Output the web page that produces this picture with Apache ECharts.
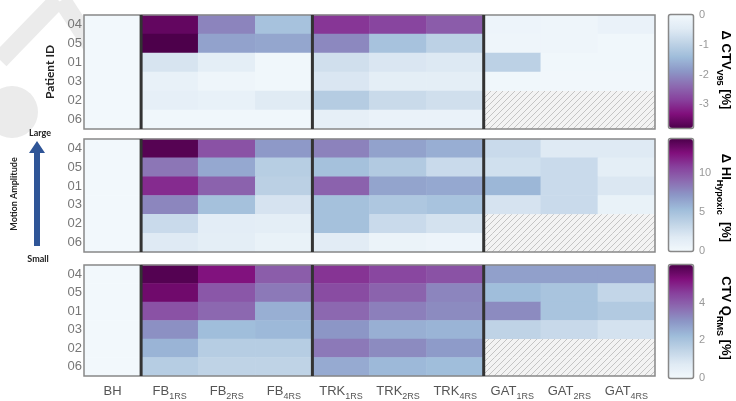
<!DOCTYPE html>
<html>
<head>
<meta charset="utf-8">
<script src="https://cdn.jsdelivr.net/npm/echarts@6/dist/echarts.min.js"></script>
<style>
  html, body { margin: 0; padding: 0; background: #fff; }
  #main { width: 736px; height: 401px; }
</style>
</head>
<body>
<div id="main"></div>
<script>
// 列（方案）和行（患者）
var cols = ['BH', 'FB_1RS', 'FB_2RS', 'FB_4RS', 'TRK_1RS', 'TRK_2RS', 'TRK_4RS', 'GAT_1RS', 'GAT_2RS', 'GAT_4RS'];
var patients = ['04', '05', '01', '03', '02', '06'];

// ΔCTV_V95 [%]，null = 无数据（斜线）
var ctvV95 = [
  [0, -3.6, -2.1, -1.3, -2.95, -2.8, -2.55, -0.12, -0.1, -0.2],
  [0, -3.8, -1.75, -1.7, -2.05, -1.3, -1.0, -0.1, -0.1, -0.05],
  [0, -0.6, -0.35, -0.05, -0.7, -0.55, -0.5, -1.0, -0.05, -0.05],
  [0, -0.25, -0.1, -0.05, -0.55, -0.35, -0.35, -0.05, -0.03, -0.03],
  [0, -0.3, -0.25, -0.45, -1.1, -0.8, -0.7, null, null, null],
  [0, -0.05, -0.05, -0.05, -0.3, -0.2, -0.2, null, null, null]
];
// ΔHI_Hypoxic [%]
var hiHyp = [
  [0, 14.0, 10.0, 7.0, 8.0, 6.6, 6.0, 3.0, 1.8, 1.8],
  [0, 8.5, 6.3, 4.0, 5.0, 4.3, 3.0, 2.6, 3.0, 1.3],
  [0, 11.5, 9.3, 3.8, 9.3, 6.5, 6.3, 5.6, 3.0, 2.0],
  [0, 7.8, 5.0, 2.3, 5.0, 4.5, 4.8, 2.3, 3.0, 0.8],
  [0, 3.0, 1.4, 1.3, 5.0, 3.0, 2.4, null, null, null],
  [0, 1.8, 1.3, 0.8, 1.5, 0.7, 0.5, null, null, null]
];
// CTV Q_RMS [%]
var ctvQ = [
  [0, 5.9, 5.2, 4.0, 4.7, 4.4, 4.2, 2.8, 2.8, 2.8],
  [0, 5.5, 4.1, 3.5, 4.3, 3.9, 3.3, 2.2, 2.0, 1.4],
  [0, 4.2, 3.8, 2.5, 3.8, 3.4, 3.2, 3.2, 2.0, 1.8],
  [0, 3.1, 2.2, 2.3, 3.0, 2.5, 2.4, 1.5, 1.3, 1.0],
  [0, 2.4, 1.7, 1.7, 3.5, 3.2, 2.9, null, null, null],
  [0, 1.7, 1.5, 1.5, 2.6, 2.3, 2.2, null, null, null]
];

// 色标范围和刻度
var barMin = [-3.8, 0, 0];
var barMax = [0, 14.3, 6];
var barTicks = [[0, -1, -2, -3], [0, 5, 10], [0, 2, 4]];

var bupu = ['#f2f8fc', '#dfeaf4', '#bfd3e6', '#9ebcda', '#8c96c6', '#8c6bb1', '#88419d', '#810f7c', '#4d004b'];

// 斜线填充
var hatch = document.createElement('canvas');
hatch.width = 6; hatch.height = 6;
(function () {
  var c = hatch.getContext('2d');
  c.fillStyle = '#f3f3f3';
  c.fillRect(0, 0, 6, 6);
  c.strokeStyle = '#c4c4c4';
  c.lineWidth = 1;
  c.beginPath();
  c.moveTo(0, 6); c.lineTo(6, 0);
  c.moveTo(-1, 1); c.lineTo(1, -1);
  c.moveTo(5, 7); c.lineTo(7, 5);
  c.stroke();
})();

var panels = [ctvV95, hiHyp, ctvQ];
var gridTop = [15, 139, 265];
var gridH = [114, 113, 114];

function colLabel(v) {
  var p = v.split('_');
  return p.length > 1 ? '{m|' + p[0] + '}{s|' + p[1] + '}' : '{m|' + v + '}';
}

var grids = [], xAxes = [], yAxes = [], series = [], visualMaps = [];

panels.forEach(function (vals, i) {
  var data = [], na = [];
  vals.forEach(function (row, r) {
    row.forEach(function (v, c) {
      if (v === null) na.push([c, r]);
      else data.push([c, r, v]);
    });
  });
  grids.push({ left: 84, width: 571, top: gridTop[i], height: gridH[i] });
  xAxes.push({
    type: 'category', gridIndex: i, data: cols,
    axisLine: { show: false }, axisTick: { show: false }, splitLine: { show: false },
    axisLabel: {
      show: i === 2, margin: 5, interval: 0, formatter: colLabel,
      rich: {
        m: { fontFamily: 'Liberation Sans', fontSize: 13, color: '#555', lineHeight: 20, verticalAlign: 'middle' },
        s: { fontFamily: 'Liberation Sans', fontSize: 9, color: '#555', lineHeight: 10, verticalAlign: 'bottom' }
      }
    }
  });
  yAxes.push({
    type: 'category', gridIndex: i, data: patients, inverse: true,
    axisLine: { show: false }, axisTick: { show: false }, splitLine: { show: false },
    axisLabel: { margin: 2, fontFamily: 'Liberation Sans', fontSize: 13, color: '#777' }
  });
  series.push({
    type: 'heatmap', xAxisIndex: i, yAxisIndex: i, data: data,
    emphasis: { disabled: true }, animation: false
  });
  // 无数据格子
  series.push({
    type: 'custom', xAxisIndex: i, yAxisIndex: i, data: na,
    silent: true, animation: false,
    renderItem: function (params, api) {
      var p = api.coord([api.value(0), api.value(1)]);
      var s = api.size([1, 1]);
      return {
        type: 'rect',
        shape: { x: p[0] - s[0] / 2, y: p[1] - s[1] / 2, width: s[0], height: s[1] },
        style: { fill: { image: hatch, repeat: 'repeat' } }
      };
    }
  });
  // 外框和分隔线
  series.push({
    type: 'custom', xAxisIndex: i, yAxisIndex: i, data: [[0, 0], [1, 0], [4, 0], [7, 0]],
    silent: true, animation: false,
    renderItem: function (params, api) {
      var cs = params.coordSys;
      var k = api.value(0);
      if (k === 0) {
        return {
          type: 'rect', z2: 10,
          shape: { x: cs.x, y: cs.y, width: cs.width, height: cs.height },
          style: { fill: 'none', stroke: '#888', lineWidth: 1.5 }
        };
      }
      var x = api.coord([k, 0])[0] - api.size([1, 0])[0] / 2;
      return {
        type: 'line', z2: 20,
        shape: { x1: x, y1: cs.y, x2: x, y2: cs.y + cs.height },
        style: { stroke: '#333', lineWidth: 3 }
      };
    }
  });
  visualMaps.push({
    type: 'continuous', seriesIndex: i * 3, min: barMin[i], max: barMax[i],
    inRange: { color: i === 0 ? bupu.slice().reverse() : bupu },
    left: 669, top: gridTop[i], itemWidth: 24, itemHeight: gridH[i] - 1,
    padding: 0, calculable: false, showLabel: false, text: null, hoverLink: false
  });
});

// 色标刻度轴
panels.forEach(function (vals, i) {
  var g = 3 + i;
  grids.push({ left: 669, width: 24, top: gridTop[i], height: gridH[i] - 1 });
  xAxes.push({ type: 'value', gridIndex: g, show: false, min: 0, max: 1 });
  yAxes.push({
    type: 'value', gridIndex: g, position: 'right', min: barMin[i], max: barMax[i],
    axisLine: { show: false }, axisTick: { show: false }, splitLine: { show: false },
    axisLabel: { customValues: barTicks[i], margin: 6, fontFamily: 'Liberation Sans', fontSize: 11, color: '#999' }
  });
});

var titleRich = {
  m: { fontFamily: 'Liberation Sans', fontWeight: 'bold', fontSize: 13, color: '#111', lineHeight: 22, verticalAlign: 'middle' },
  s: { fontFamily: 'Liberation Sans', fontWeight: 'bold', fontSize: 9, color: '#111', lineHeight: 10, verticalAlign: 'bottom' }
};

var graphics = [
  // 水印
  { type: 'line', silent: true, z: -10, shape: { x1: 0, y1: 60, x2: 58, y2: 0 }, style: { stroke: '#ebebeb', lineWidth: 18 } },
  { type: 'line', silent: true, z: -10, shape: { x1: 62, y1: 0, x2: 115, y2: 82 }, style: { stroke: '#ebebeb', lineWidth: 18 } },
  { type: 'circle', silent: true, z: -10, shape: { cx: 12, cy: 112, r: 26 }, style: { fill: '#ebebeb' } },
  // 左侧注释
  { type: 'text', x: 50, y: 72, rotation: Math.PI / 2,
    style: { text: 'Patient ID', fontFamily: 'Lato', fontWeight: 'bold', fontSize: 12, fill: '#222', align: 'center', verticalAlign: 'middle' } },
  { type: 'text', x: 40, y: 133,
    style: { text: 'Large', fontFamily: 'Lato', fontWeight: 'bold', fontSize: 9, fill: '#222', align: 'center', verticalAlign: 'middle' } },
  { type: 'polygon', shape: { points: [[37, 141], [45, 153], [40, 153], [40, 246], [34, 246], [34, 153], [29, 153]] },
    style: { fill: '#2f5597' } },
  { type: 'text', x: 14, y: 194, rotation: Math.PI / 2,
    style: { text: 'Motion Amplitude', fontFamily: 'Lato', fontWeight: 'bold', fontSize: 9, fill: '#222', align: 'center', verticalAlign: 'middle' } },
  { type: 'text', x: 38, y: 259,
    style: { text: 'Small', fontFamily: 'Lato', fontWeight: 'bold', fontSize: 9, fill: '#222', align: 'center', verticalAlign: 'middle' } },
  // 色标标题
  { type: 'text', x: 726, y: 70, rotation: -Math.PI / 2,
    style: { text: '{m|Δ CTV}{s|V95}{m| [%]}', rich: titleRich, align: 'center', verticalAlign: 'middle' } },
  { type: 'text', x: 726, y: 198, rotation: -Math.PI / 2,
    style: { text: '{m|Δ HI}{s|Hypoxic}{m|  [%]}', rich: titleRich, align: 'center', verticalAlign: 'middle' } },
  { type: 'text', x: 726, y: 318, rotation: -Math.PI / 2,
    style: { text: '{m|CTV Q}{s|RMS}{m| [%]}', rich: titleRich, align: 'center', verticalAlign: 'middle' } }
];

// 色标边框
gridTop.forEach(function (t, i) {
  graphics.push({
    type: 'rect', z: 100, silent: true,
    shape: { x: 668.5, y: t - 0.5, width: 25, height: gridH[i], r: 2 },
    style: { fill: 'none', stroke: '#888', lineWidth: 1.5 }
  });
});

var myChart = echarts.init(document.getElementById('main'));
myChart.setOption({
  animation: false,
  backgroundColor: '#fff',
  grid: grids,
  xAxis: xAxes,
  yAxis: yAxes,
  visualMap: visualMaps,
  series: series,
  graphic: graphics
});
window.addEventListener('resize', () => myChart.resize(), false);
</script>
</body>
</html>
